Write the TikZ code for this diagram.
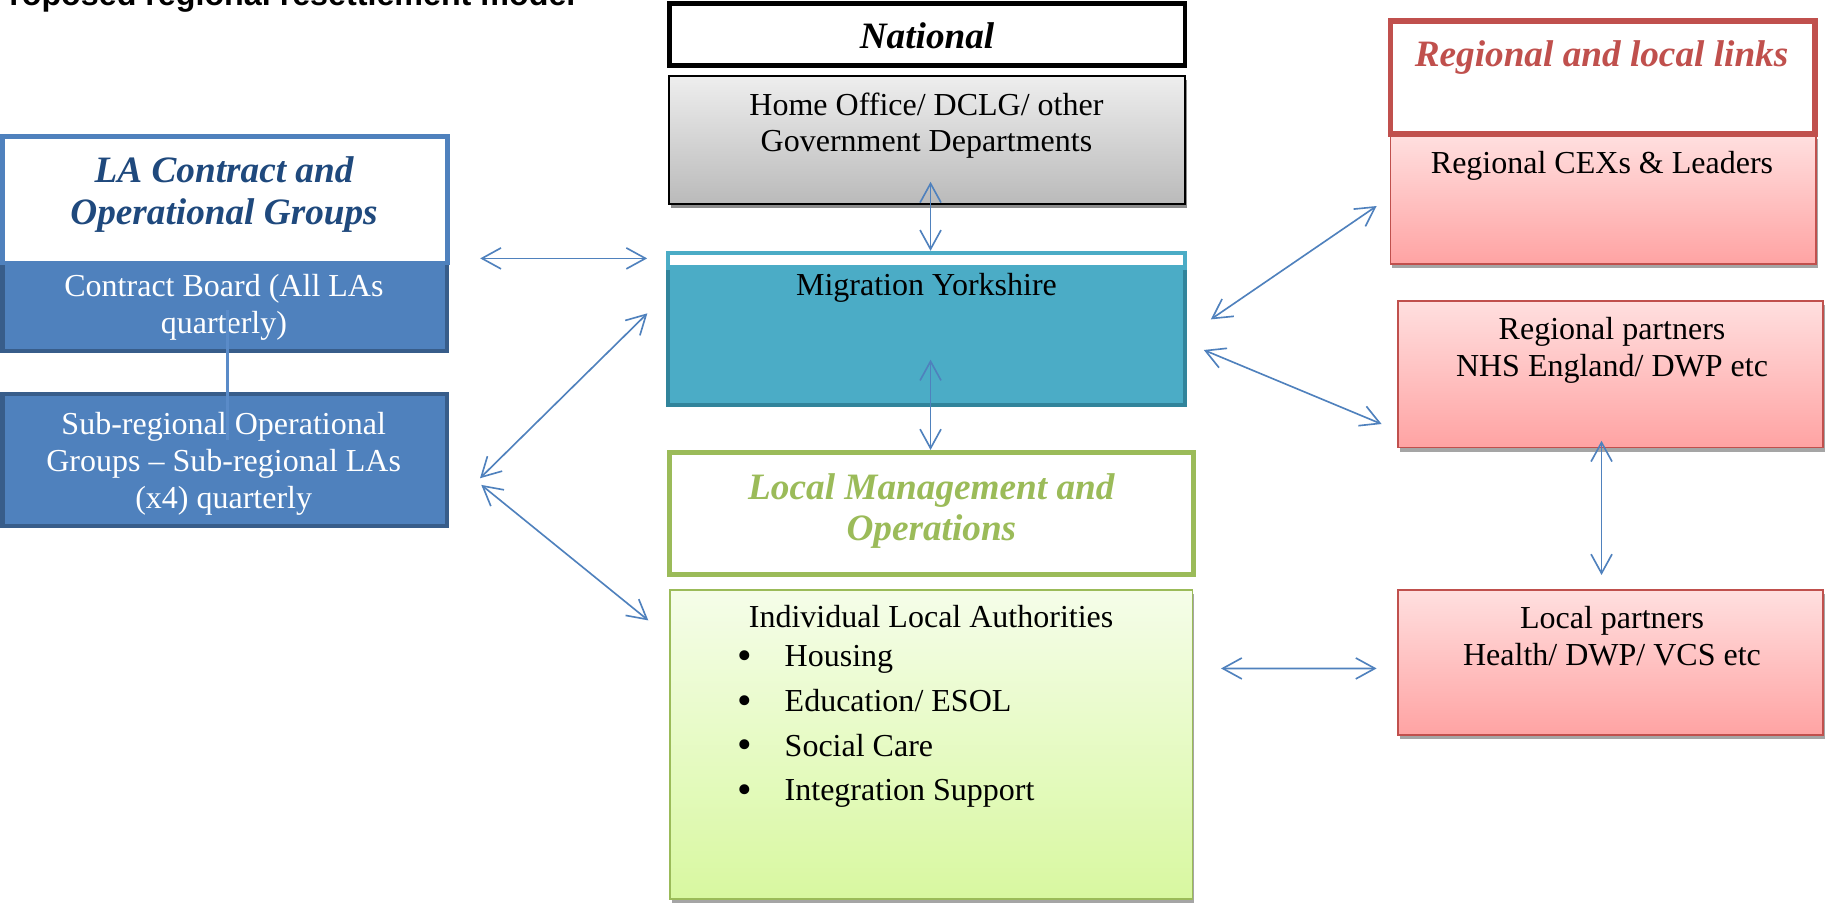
\documentclass[tikz,border=0pt]{standalone}
\usepackage{fontspec}
\usepackage{graphicx}
\setmainfont{Liberation Serif}
\newfontfamily\headsans{Liberation Sans}
\usetikzlibrary{arrows.meta,calc,fit,shadows}

\definecolor{blueacc}{HTML}{4F81BD}
\definecolor{bluedark}{HTML}{385D8A}
\definecolor{bluetitle}{HTML}{1F497D}
\definecolor{bluelink}{HTML}{5A8BC8}
\definecolor{tealacc}{HTML}{4BACC6}
\definecolor{tealdark}{HTML}{31849B}
\definecolor{greenacc}{HTML}{9BBB59}
\definecolor{redacc}{HTML}{C0504D}
\definecolor{pinktop}{HTML}{FFDFDF}
\definecolor{pinkbot}{HTML}{FFA3A3}
\definecolor{greentop}{HTML}{F5FDE9}
\definecolor{greenbot}{HTML}{D8F8A0}
\definecolor{graytop}{HTML}{EEEEEE}
\definecolor{graybot}{HTML}{BABABA}
\definecolor{shadowgray}{HTML}{A5A5A5}

\newcommand{\bodysize}{\fontsize{13.75}{15.75}\selectfont}
\newcommand{\titlesize}[1]{\fontsize{16}{#1}\selectfont\bfseries\itshape}
\newcommand{\lines}[1]{\begin{tabular}[t]{@{}c@{}}#1\end{tabular}}
\newcommand{\bul}{\makebox[20.3pt][l]{\raisebox{-1.2pt}{\scalebox{1.3}{\textbullet}}}}

\begin{document}
\begin{tikzpicture}[x=0.5pt,y=-0.5pt,
  every node/.style={inner sep=0pt,outer sep=0pt},
  boxshadow/.style={drop shadow={shadow xshift=0.75pt,shadow yshift=-1.75pt,fill=#1,opacity=1}},
  headbox/.style={draw=#1,line width=2pt,fill=white},
  solidbox/.style={draw=#1,line width=2pt},
  thinbox/.style={draw=#1,line width=0.75pt},
  bodytext/.style={anchor=base,font=\bodysize},
  biarrow/.style={draw=blueacc,line width=0.7pt,>={Straight Barb[length=8.2pt,width=9pt]},<->},
  link/.style={draw=bluelink,line width=1.1pt}]

\fill[white] (0,0) rectangle (1568,778);
\useasboundingbox (0,0) rectangle (1568,778);

% heading of the page, partly above the top edge
\node[anchor=base west,font=\headsans\bfseries\fontsize{13.85}{16}\selectfont] (pagehead) at (-10.5,4.5)
  {Proposed regional resettlement model};

% ---------- national column ----------
\node[headbox=black,fit={(575,3) (1018,56)}] (nat) {};
\node[anchor=base,font=\titlesize{18}] (natt) at (796.5,41.5) {National};

\node[thinbox=black,top color=graytop,bottom color=graybot,boxshadow=shadowgray!85!black,
      fit={(574.75,65.2) (1018.25,175.2)}] (home) {};
\node[bodytext] (homet) at (796,98.8) {\lines{Home Office/ DCLG/ other\\Government Departments}};

\node[solidbox=tealdark,fill=tealacc,fit={(574,227) (1018,348)}] (migr) {};
\node[headbox=tealacc,fit={(574,217.5) (1018,230)}] (migrtop) {};
\node[bodytext] (migrt) at (796,254.3) {Migration Yorkshire};

\node[headbox=greenacc,line width=2.15pt,fit={(575.5,388.8) (1025,493.2)}] (locm) {};
\node[anchor=base,font=\titlesize{17.5},text=greenacc] (locmt) at (800.2,429)
  {\lines{Local Management and\\Operations}};

\node[thinbox=greenacc,top color=greentop,bottom color=greenbot,boxshadow=shadowgray,
      fit={(575.75,506.75) (1024.6,772.25)}] (ila) {};
\node[bodytext] (ilat) at (800,539) {Individual Local Authorities};
\node[anchor=base west,font=\fontsize{13.75}{19.2}\selectfont] (ilalist) at (633.6,572.8)
  {\begin{tabular}[t]{@{}l@{}l@{}}
   \bul & Housing\\
   \bul & Education/ ESOL\\
   \bul & Social Care\\
   \bul & Integration Support
   \end{tabular}};

% ---------- LA groups column ----------
\node[solidbox=bluedark,fill=blueacc,fit={(2,226) (384,301.6)}] (cboard) {};
\node[headbox=blueacc,fit={(2,117) (384.6,226)}] (lahdr) {};
\node[anchor=base,font=\titlesize{18},text=bluetitle] (lahdrt) at (192.5,156.9)
  {\lines{LA Contract and\\Operational Groups}};
\node[bodytext,text=white] (cboardt) at (192.4,254.8) {\lines{Contract Board (All LAs\\quarterly)}};

\node[solidbox=bluedark,fill=blueacc,fit={(2,338.5) (384,452)}] (subreg) {};
\node[bodytext,text=white] (subregt) at (192.2,373.7)
  {\lines{Sub-regional Operational\\Groups -- Sub-regional LAs\\(x4) quarterly}};

\draw[link] ($(cboard.south)+(2.6,-35.6)$) -- ($(subreg.north)+(2.6,39.5)$);

% ---------- regional and local links column ----------
\node[thinbox=redacc,top color=pinktop,bottom color=pinkbot,boxshadow=shadowgray,
      fit={(1194.75,116) (1560.25,227)}] (cex) {};
\node[headbox=redacc,line width=2.25pt,fit={(1194.5,18) (1559.4,115.2)}] (reghdr) {};
\node[anchor=base,font=\titlesize{18},text=redacc] (reghdrt) at (1376,57.3) {Regional and local links};
\node[bodytext] (cext) at (1376.4,148.9) {Regional CEXs \& Leaders};

\node[thinbox=redacc,top color=pinktop,bottom color=pinkbot,boxshadow=shadowgray,
      fit={(1201.15,258.55) (1566.25,384.45)}] (rpart) {};
\node[bodytext] (rpartt) at (1385,292.1) {\lines{Regional partners\\NHS England/ DWP etc}};

\node[thinbox=redacc,top color=pinktop,bottom color=pinkbot,boxshadow=shadowgray,
      fit={(1201.15,507.15) (1566.25,631.65)}] (lpart) {};
\node[bodytext] (lpartt) at (1385,539.9) {\lines{Local partners\\Health/ DWP/ VCS etc}};

% ---------- two-way links ----------
\draw[biarrow] ($(home.south)+(3,-19)$) -- ($(migrtop.north)+(3.5,-2)$);
\draw[biarrow] ($(migr.south)+(3.5,-39)$) -- ($(locm.north)+(-0.75,-2.2)$);
\draw[biarrow] ($(lahdr.south east)+(28,-4)$) -- ($(migrtop.west)+(-18,-1.75)$);
\draw[biarrow] ($(subreg.east)+(28.4,15.65)$) -- ($(migr.west)+(-17.8,-18.3)$);
\draw[biarrow] ($(subreg.east)+(29.5,21.35)$) -- ($(ila.north west)+(-18.75,26.25)$);
\draw[biarrow] ($(migr.east)+(22.3,-13.1)$) -- ($(cex.west)+(-12,5.5)$);
\draw[biarrow] ($(migr.east)+(16.3,13.2)$) -- ($(rpart.south west)+(-14.15,-20.15)$);
\draw[biarrow] ($(rpart.south)+(-7.7,-5.75)$) -- ($(lpart.north)+(-7.7,-13.15)$);
\draw[biarrow] ($(ila.east)+(24.5,-65.2)$) -- ($(lpart.west)+(-18.45,4.9)$);

\end{tikzpicture}
\end{document}
